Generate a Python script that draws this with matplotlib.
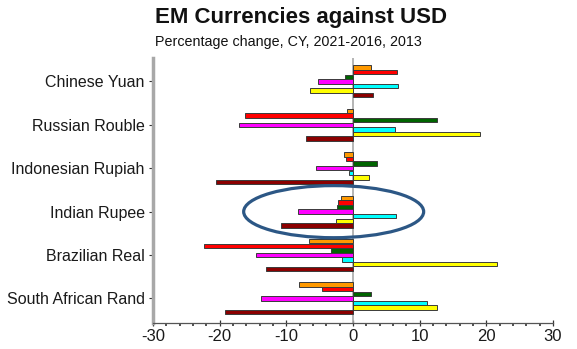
import matplotlib
matplotlib.use("Agg")
import matplotlib.pyplot as plt
from matplotlib.patches import Ellipse
from matplotlib.ticker import MultipleLocator
import numpy as np

plt.rcParams['font.family'] = ['Liberation Sans', 'DejaVu Sans']

categories = ["Chinese Yuan", "Russian Rouble", "Indonesian Rupiah",
              "Indian Rupee", "Brazilian Real", "South African Rand"]
series_colors = ["#FF9900", "#FF0000", "#006400", "#FF00FF", "#00FFFF", "#FFFF00", "#8B0000"]
# values per series (top to bottom within each group), one per category
s1 = [2.7, -0.95, -1.35, -1.85, -6.65, -8.1]     # orange
s2 = [6.65, -16.2, -1.1, -2.2, -22.4, -4.7]      # red
s3 = [-1.15, 12.55, 3.6, -2.4, -3.35, 2.65]      # dark green
s4 = [-5.25, -17.15, -5.6, -8.2, -14.5, -13.8]   # magenta
s5 = [6.8, 6.35, -0.6, 6.5, -1.65, 11.1]         # cyan
s6 = [-6.4, 19.1, 2.35, -2.5, 21.65, 12.65]      # yellow
s7 = [3.0, -7.0, -20.6, -10.85, -13.1, -19.25]   # dark red
series = [s1, s2, s3, s4, s5, s6, s7]
xticks = [-30, -20, -10, 0, 10, 20, 30]

fig = plt.figure(figsize=(5.77, 3.49), dpi=100)
ax = fig.add_axes([153/577, 1-323/349, 400/577, (323-58)/349])

n = len(series)
slot = 0.106
y = np.arange(len(categories))
for i, (vals, col) in enumerate(zip(series, series_colors)):
    off = (i - (n-1)/2) * slot
    ax.barh(y + off, vals, height=slot*0.96, color=col, edgecolor="#3a3a3a",
            linewidth=0.7, zorder=3)

ax.axvline(0, color="#a8a8a8", linewidth=1.2, zorder=2)
ax.set_xlim(-30, 30)
ax.set_ylim(5.565, -0.54)
ax.set_yticks(y)
ax.set_yticklabels(categories, fontsize=11.5, color="#1a1a1a")
ax.set_xticks(xticks)
ax.set_xticklabels([str(t) for t in xticks], fontsize=12, color="#1a1a1a")
ax.xaxis.set_minor_locator(MultipleLocator(2))

for s in ["top", "right"]:
    ax.spines[s].set_visible(False)
ax.spines["left"].set_color("#a8a8a8")
ax.spines["left"].set_linewidth(2.5)
ax.spines["bottom"].set_color("#555555")
ax.spines["bottom"].set_linewidth(0.9)
ax.tick_params(axis="y", length=3, width=0.8, color="#333333", pad=3)
ax.tick_params(axis="x", which="major", direction="inout", length=5, width=0.9,
               color="#333333", pad=2)
ax.tick_params(axis="x", which="minor", direction="out", length=2, width=1.2,
               color="#333333")

# annotation ellipse around Indian Rupee
ax.add_patch(Ellipse((-2.9, 3), width=27, height=1.2, fill=False,
                     edgecolor="#2c5785", linewidth=2.3, zorder=5, clip_on=False))

fig.text(155/577, 1-18/349, "EM Currencies against USD", fontsize=16,
         fontweight="bold", ha="left", va="center", color="#111111")
fig.text(155/577, 1-42/349, "Percentage change, CY, 2021-2016, 2013", fontsize=10.3,
         ha="left", va="center", color="#111111")

fig.savefig("out.png", dpi=100)
